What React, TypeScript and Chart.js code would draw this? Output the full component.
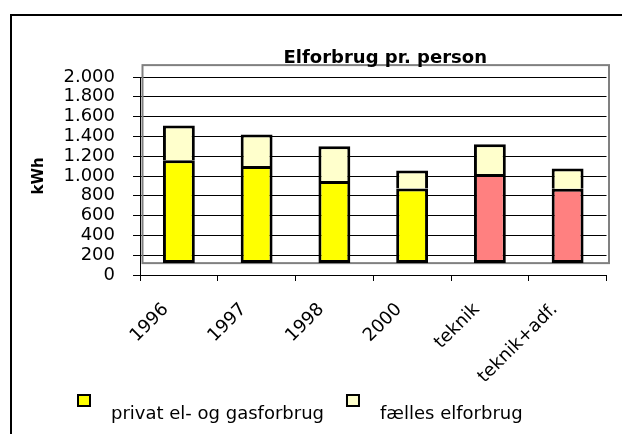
import React, { useEffect, useRef } from "react";
import { Chart, registerables } from "chart.js";

Chart.register(...registerables);

// ---------- data ----------
const categories = ["1996", "1997", "1998", "2000", "teknik", "teknik+adf."];
const privatValues = [1160, 1100, 950, 875, 1020, 870];
const faellesValues = [350, 320, 350, 180, 300, 205];
const privatColors = ["#FFFF00", "#FFFF00", "#FFFF00", "#FFFF00", "#FF8080", "#FF8080"];
const faellesColor = "#FFFFCC";
const seriesNames = ["privat el- og gasforbrug", "fælles elforbrug"];
const legendColors = ["#FFFF00", "#FFFFCC"];
const chartTitle = "Elforbrug pr. person";
const yAxisTitle = "kWh";
const yTickLabels = ["0", "200", "400", "600", "800", "1.000", "1.200", "1.400", "1.600", "1.800", "2.000"];
const yMin = 0;
const yMax = 2000;
const yStep = 200;
const floorValue = 120; // floor of the 3-D wall (bars start here)

const FONT = "'DejaVu Sans', sans-serif";

const borderPlugin = {
  id: "outerBorder",
  beforeDraw(chart: any) {
    const ctx = chart.ctx;
    ctx.save();
    ctx.fillStyle = "#fff";
    ctx.fillRect(0, 0, chart.width, chart.height);
    ctx.strokeStyle = "#000";
    ctx.lineWidth = 2;
    ctx.strokeRect(11, 15, chart.width + 50, chart.height + 50);
    ctx.restore();
  },
};

const wallPlugin = {
  id: "wall",
  beforeDatasetsDraw(chart: any) {
    const { left, right, top, bottom } = chart.chartArea;
    const y = chart.scales.y;
    const floorY = y.getPixelForValue(floorValue);
    const depth = bottom - floorY;
    const ctx = chart.ctx;
    ctx.save();
    ctx.strokeStyle = "#808080";
    ctx.lineWidth = 2;
    ctx.strokeRect(left + 2.5, top - depth, right - left, floorY - (top - depth));
    ctx.restore();
  },
};

const titlePlugin = {
  id: "customTitle",
  afterDraw(chart: any) {
    const { left, right } = chart.chartArea;
    const ctx = chart.ctx;
    ctx.save();
    ctx.font = `bold 18px ${FONT}`;
    ctx.fillStyle = "#000";
    ctx.textAlign = "center";
    ctx.textBaseline = "alphabetic";
    ctx.fillText(chartTitle, (left + right) / 2 + 12, 63);
    ctx.restore();
  },
};

const legendPlugin = {
  id: "customLegend",
  afterDraw(chart: any) {
    const ctx = chart.ctx;
    ctx.save();
    ctx.font = `18px ${FONT}`;
    ctx.textAlign = "left";
    ctx.textBaseline = "alphabetic";
    let x = 77;
    const boxTop = 394;
    const baseline = 419;
    seriesNames.forEach((name, i) => {
      ctx.fillStyle = legendColors[i];
      ctx.fillRect(x, boxTop, 14, 13);
      ctx.strokeStyle = "#000";
      ctx.lineWidth = 2;
      ctx.strokeRect(x + 1, boxTop + 1, 12, 11);
      ctx.fillStyle = "#000";
      ctx.fillText(name, x + 34, baseline);
      x += 34 + ctx.measureText(name).width + 22;
    });
    ctx.restore();
  },
};

export default function App() {
  const canvasRef = useRef<HTMLCanvasElement | null>(null);

  useEffect(() => {
    const canvas = canvasRef.current;
    if (!canvas) return;
    const chart = new Chart(canvas, {
      type: "bar",
      data: {
        labels: categories,
        datasets: [
          {
            label: seriesNames[0],
            data: privatValues,
            backgroundColor: privatColors,
            borderColor: "#000",
            borderWidth: 3,
            borderSkipped: false,
            base: floorValue,
            categoryPercentage: 1,
            barPercentage: 0.41,
          } as any,
          {
            label: seriesNames[1],
            data: faellesValues,
            backgroundColor: faellesColor,
            borderColor: "#000",
            borderWidth: 3,
            borderSkipped: "start",
            categoryPercentage: 1,
            barPercentage: 0.41,
          } as any,
        ],
      },
      options: {
        animation: false,
        responsive: false,
        layout: { padding: { top: 77, right: 15.5, bottom: 0, left: 0 } },
        plugins: {
          legend: { display: false },
          title: { display: false },
          tooltip: { enabled: false },
        },
        scales: {
          x: {
            stacked: true,
            grid: { drawOnChartArea: false, color: "#000", tickLength: 6, offset: true },
            border: { color: "#000", width: 1 },
            ticks: {
              minRotation: 45,
              maxRotation: 45,
              autoSkip: false,
              color: "#000",
              padding: 18,
              labelOffset: -13,
              font: { family: FONT, size: 18 },
            },
            afterFit: (s: any) => {
              s.height = 159;
            },
          },
          y: {
            stacked: true,
            min: yMin,
            max: yMax,
            ticks: {
              stepSize: yStep,
              autoSkip: false,
              padding: 18,
              color: "#000",
              font: { family: FONT, size: 18 },
              callback: (_v: any, i: number) => yTickLabels[i],
            },
            grid: { color: "#000", tickLength: 7 },
            border: { color: "#000", width: 1 },
            title: {
              display: true,
              text: yAxisTitle,
              color: "#000",
              font: { family: FONT, size: 15, weight: "bold" },
              padding: { top: 30, bottom: 0 },
            },
            afterFit: (s: any) => {
              s.width = 140;
            },
          },
        },
      } as any,
      plugins: [borderPlugin, wallPlugin, titlePlugin, legendPlugin],
    });
    return () => chart.destroy();
  }, []);

  return (
    <div style={{ position: "fixed", left: 0, top: 0, width: 622, height: 434, overflow: "hidden", background: "#fff" }}>
      <canvas ref={canvasRef} width={622} height={434} style={{ display: "block" }} />
    </div>
  );
}
